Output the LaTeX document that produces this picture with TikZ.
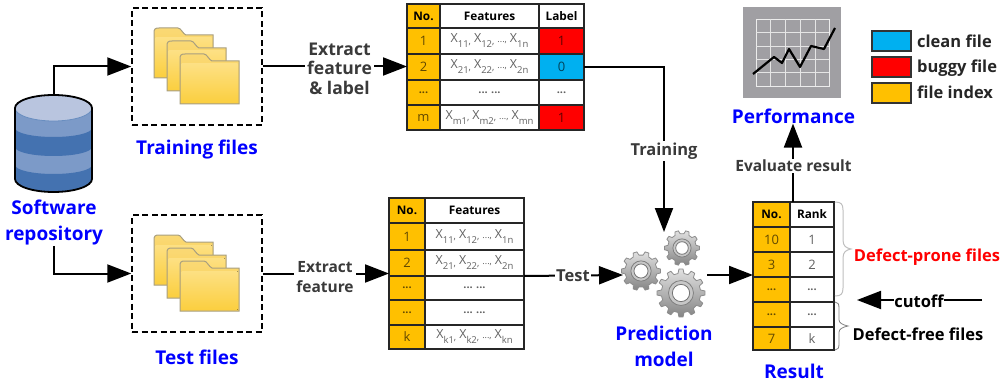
\documentclass[tikz,border=0pt]{standalone}
\usepackage{fontspec}
\setmainfont{Open Sans}
\usetikzlibrary{arrows.meta,calc}
\definecolor{idx}{HTML}{FFC000}
\definecolor{bug}{HTML}{FF0000}
\definecolor{cln}{HTML}{00B0F0}
\definecolor{dbl}{HTML}{7C9AC8}
\definecolor{dbd}{HTML}{4472B0}
\definecolor{dbt}{HTML}{B9C5DF}
\definecolor{lbl}{HTML}{3A3A3A}
\definecolor{bluet}{HTML}{0000FF}
\definecolor{fedge}{HTML}{A89F80}
\definecolor{fbacka}{HTML}{FAD975}
\definecolor{fbackb}{HTML}{F8CC4A}
\definecolor{ffronta}{HTML}{FDE083}
\definecolor{ffrontb}{HTML}{FBCF40}
\definecolor{chartbg}{HTML}{A09FA3}
\tikzset{
  cellbox/.style={draw=black!85,line width=1.4pt,inner sep=0pt,outer sep=0pt,font=\fontsize{13}{13}\selectfont,text=black,text opacity=.62},
  headtext/.style={font=\fontsize{11.8}{12}\selectfont\bfseries,text opacity=1},
  conn/.style={draw=black,line width=2pt},
  arr/.style={conn,-{Triangle[length=24pt,width=18pt]}},
  filebox/.style={draw=black,line width=1.5pt,dash pattern=on 6pt off 3.5pt,inner sep=0pt,minimum width=130pt,minimum height=117pt},
  bluelabel/.style={font=\fontsize{19}{26}\selectfont\bfseries,text=bluet,align=center,inner sep=0pt},
  graylabel/.style={font=\fontsize{15.5}{19.5}\selectfont\bfseries,text=lbl,align=center,inner sep=2pt,fill=white},
  legendbox/.style={draw=black!80,line width=1.4pt,minimum width=39pt,minimum height=20pt,inner sep=0pt},
  legendtext/.style={font=\fontsize{16.5}{16.5}\selectfont\bfseries,text=black!85,anchor=west,inner sep=0pt},
  bracegray/.style={draw=black!25,line width=1pt},
  bracedark/.style={draw=black!50,line width=.8pt}
}
\newcommand\tcell[7]{\node[cellbox,fill=#6,minimum width={#4-#2},minimum height={#5-#3}] (#1) at ({(#2+#4)/2},{(#3+#5)/2}) {#7};}
\newcommand\hcell[7]{\node[cellbox,headtext,fill=#6,minimum width={#4-#2},minimum height={#5-#3}] (#1) at ({(#2+#4)/2},{(#3+#5)/2}) {#7};}
\newcommand\xs[1]{{\fontsize{12.5}{12.5}\selectfont X}\raisebox{-5pt}{\fontsize{9.5}{9.5}\selectfont #1}}
\newcommand\xrow[3]{\xs{#1\raisebox{3.5pt}{,}}\kern3pt\xs{#2\raisebox{3.5pt}{,}}\kern3pt{\fontsize{9}{9}\selectfont ...,}\kern3pt\xs{#3}}
\newcommand\dotsrow{{\fontsize{11}{11}\selectfont\bfseries ...}}
\newcommand\folderone[2]{%
  \draw[draw=fedge,line width=1pt,top color=fbacka,bottom color=fbackb]
    (#1,#2+50) -- (#1,#2+5) .. controls (#1,#2+1) and (#1+1,#2) .. (#1+5,#2) -- (#1+24,#2)
    .. controls (#1+27,#2) and (#1+29,#2+6) .. (#1+32,#2+7) -- (#1+59,#2+7) -- (#1+59,#2+50) -- cycle;
  \fill[top color=ffronta,bottom color=ffrontb]
    (#1+1.5,#2+10) rectangle (#1+57.5,#2+48.5);}
\newcommand\gearshape[4]{% cx cy R teeth
  \path[draw=black!45,line width=.8pt,top color=black!12,bottom color=black!48]
    ({#1+#3*cos(0)},{#2+#3*sin(0)})
    \foreach \k in {1,...,#4}{
      -- ({#1+#3*cos((\k-1)*360/#4+0.16*360/#4)},{#2+#3*sin((\k-1)*360/#4+0.16*360/#4)})
      -- ({#1+.82*#3*cos((\k-1)*360/#4+0.3*360/#4)},{#2+.82*#3*sin((\k-1)*360/#4+0.3*360/#4)})
      -- ({#1+.82*#3*cos((\k-1)*360/#4+0.7*360/#4)},{#2+.82*#3*sin((\k-1)*360/#4+0.7*360/#4)})
      -- ({#1+#3*cos((\k-1)*360/#4+0.84*360/#4)},{#2+#3*sin((\k-1)*360/#4+0.84*360/#4)})
      -- ({#1+#3*cos(\k*360/#4)},{#2+#3*sin(\k*360/#4)})
    } -- cycle;
  \draw[black!50,line width=.8pt,fill=black!22] (#1,#2) circle ({.52*#3});
  \draw[black!55,line width=.8pt,fill=white] (#1,#2) circle ({.36*#3});}
\begin{document}
\begin{tikzpicture}[x=1pt,y=-1pt]
\useasboundingbox (0,0) rectangle (1007,385);
% database
\fill[dbl] (15,107) -- (15,179) arc[start angle=180,end angle=360,x radius=38.5,y radius=-13] -- (92,107) -- cycle;
\fill[dbd] (15,128) arc[start angle=180,end angle=360,x radius=38.5,y radius=-9] -- (92,147)
  arc[start angle=0,end angle=-180,x radius=38.5,y radius=-9] -- cycle;
\fill[dbd] (15,165) arc[start angle=180,end angle=360,x radius=38.5,y radius=-9] -- (92,179)
  arc[start angle=0,end angle=-180,x radius=38.5,y radius=-13] -- cycle;
\draw[dbd!80,line width=.8pt,fill=dbt] (53.5,108) ellipse[x radius=38.5,y radius=13];
\draw[black,line width=1.8pt] (15,179) -- (15,108) arc[start angle=180,end angle=360,x radius=38.5,y radius=13] -- (92,179)
  arc[start angle=0,end angle=-180,x radius=38.5,y radius=-13];
\node[minimum width=77pt,minimum height=97pt,inner sep=0pt] (db) at (53.5,143.5) {};
\node[bluelabel] (dblabel) at (54,223) {Software\\repository};
% file boxes
\node[filebox] (trainbox) at (197,66.5) {};
\node[filebox] (testbox) at (197,273.5) {};
\folderone{154}{28}\folderone{167}{41}\folderone{180}{54}
\folderone{154}{235}\folderone{167}{248}\folderone{180}{261}
\node[bluelabel] (trainlabel) at (197,150) {Training files};
\node[bluelabel] (testlabel) at (197,357) {Test files};
% table A
\hcell{a0n}{407}{4}{440}{28}{idx}{No.}\hcell{a0f}{440}{4}{539}{28}{white}{Features}\hcell{a0l}{539}{4}{584}{28}{white}{Label}
\tcell{a1n}{407}{28}{440}{54}{idx}{1}\tcell{a1f}{440}{28}{539}{54}{white}{\xrow{11}{12}{1n}}\tcell{a1l}{539}{28}{584}{54}{bug}{1}
\tcell{a2n}{407}{54}{440}{80}{idx}{2}\tcell{a2f}{440}{54}{539}{80}{white}{\xrow{21}{22}{2n}}\tcell{a2l}{539}{54}{584}{80}{cln}{0}
\tcell{a3n}{407}{80}{440}{105}{idx}{\dotsrow}\tcell{a3f}{440}{80}{539}{105}{white}{\dotsrow\ \dotsrow}\tcell{a3l}{539}{80}{584}{105}{white}{\dotsrow}
\tcell{a4n}{407}{105}{440}{130}{idx}{m}\tcell{a4f}{440}{105}{539}{130}{white}{\xrow{m1}{m2}{mn}}\tcell{a4l}{539}{105}{584}{130}{bug}{1}
% table B
\hcell{b0n}{389}{198}{425}{223}{idx}{No.}\hcell{b0f}{425}{198}{524}{223}{white}{Features}
\tcell{b1n}{389}{223}{425}{250}{idx}{1}\tcell{b1f}{425}{223}{524}{250}{white}{\xrow{11}{12}{1n}}
\tcell{b2n}{389}{250}{425}{276}{idx}{2}\tcell{b2f}{425}{250}{524}{276}{white}{\xrow{21}{22}{2n}}
\tcell{b3n}{389}{276}{425}{300}{idx}{\dotsrow}\tcell{b3f}{425}{276}{524}{300}{white}{\dotsrow\ \dotsrow}
\tcell{b4n}{389}{300}{425}{325}{idx}{\dotsrow}\tcell{b4f}{425}{300}{524}{325}{white}{\dotsrow\ \dotsrow}
\tcell{b5n}{389}{325}{425}{349}{idx}{k}\tcell{b5f}{425}{325}{524}{349}{white}{\xrow{k1}{k2}{kn}}
% table C
\hcell{c0n}{753}{202}{790}{227}{idx}{No.}\hcell{c0r}{790}{202}{834}{227}{white}{Rank}
\tcell{c1n}{753}{227}{790}{252}{idx}{10}\tcell{c1r}{790}{227}{834}{252}{white}{1}
\tcell{c2n}{753}{252}{790}{277}{idx}{3}\tcell{c2r}{790}{252}{834}{277}{white}{2}
\tcell{c3n}{753}{277}{790}{302}{idx}{\dotsrow}\tcell{c3r}{790}{277}{834}{302}{white}{\dotsrow}
\tcell{c4n}{753}{302}{790}{327}{idx}{\dotsrow}\tcell{c4r}{790}{302}{834}{327}{white}{\dotsrow}
\tcell{c5n}{753}{327}{790}{350}{idx}{7}\tcell{c5r}{790}{327}{834}{350}{white}{k}
\node[bluelabel] (resultlabel) at (794,371) {Result};
% gears
\gearshape{682}{248}{17.5}{10}
\gearshape{641}{271}{19.5}{10}
\gearshape{681}{293}{24}{12}
\coordinate (gearin) at (623,275);
\coordinate (gearout) at (707,275);
\coordinate (geartop) at (664,232);
\node[bluelabel] (predlabel) at (664,346) {Prediction\\model};
% chart
\node[fill=chartbg,minimum width=98pt,minimum height=91pt,inner sep=0pt] (chart) at (792,52.5) {};
\draw[white!85!gray,line width=.8pt] (756,19) rectangle (829,86);
\foreach \gy in {32,46,59,72}{\draw[white!80!gray,line width=.8pt] (756,\gy) -- (829,\gy);}
\foreach \gx in {770,785,800,815}{\draw[white!80!gray,line width=.8pt] (\gx,19) -- (\gx,86);}
\draw[black,line width=2.2pt,line join=round] (753,74) -- (774,57) -- (782,63) -- (789,49) -- (800,67) -- (811,46) -- (824,49) -- (835,28);
\node[bluelabel] (perflabel) at (793.5,116) {Performance};
% legend
\node[legendbox,fill=cln] (lg1) at (891.5,41) {};
\node[legendbox,fill=bug] (lg2) at (891.5,67) {};
\node[legendbox,fill=idx] (lg3) at (891.5,93) {};
\node[legendtext] (lt1) at (917,41) {clean file};
\node[legendtext] (lt2) at (917,68.5) {buggy file};
\node[legendtext] (lt3) at (917,92.5) {file index};
% connectors
\draw[arr] (db.north) |- (trainbox.west);
\draw[arr] (dblabel.south) |- (testbox.west);
\draw[arr] (trainbox.east) -- (trainbox.east -| a2n.west);
\node[graylabel,font=\fontsize{17.5}{19.5}\selectfont\bfseries] (extract1) at (339.5,68.5) {Extract\\feature\\\& label};
\draw[arr] (testbox.east) -- (testbox.east -| b3n.west);
\node[graylabel] (extract2) at (325,277) {Extract\\feature};
\draw[arr] (a2l.east) -| (geartop);
\node[graylabel,font=\fontsize{16.5}{19.5}\selectfont\bfseries] (training) at (664,151) {Training};
\draw[arr] (b2f.south east) -- (gearin);
\node[graylabel,font=\fontsize{16.5}{17}\selectfont\bfseries,inner sep=1pt] (testtxt) at (573,276) {Test};
\draw[arr] (gearout) -- (gearout -| c3n.west);
\draw[arr] (c0n.north east) ++(3,0) coordinate (cup) -- (cup |- perflabel.south);
\node[graylabel,inner sep=1pt] (evaltxt) at (793.5,166) {Evaluate result};
% braces
\draw[bracegray] (835,202) .. controls (841,202) and (843,204) .. (843,210) -- (843,240) .. controls (843,246) and (846,248) .. (851,249)
  .. controls (846,250) and (843,252) .. (843,258) -- (843,288) .. controls (843,294) and (841,296) .. (835,296);
\draw[bracedark] (835,302) .. controls (838,302) and (839,304) .. (839,308) -- (839,320) .. controls (839,323) and (843,325) .. (848,326)
  .. controls (843,327) and (839,329) .. (839,332) -- (839,344) .. controls (839,348) and (838,350) .. (835,350);
\node[font=\fontsize{16.5}{16.5}\selectfont\bfseries,text=red,inner sep=0pt] (prone) at (927,257) {Defect-prone files};
\node[font=\fontsize{16.5}{16.5}\selectfont\bfseries,text=black,inner sep=0pt] (free) at (918,334) {Defect-free files};
\coordinate (cutstart) at (982,300);
\coordinate (cutend) at (857,300);
\draw[arr] (cutstart) -- (cutend);
\node[font=\fontsize{16.5}{17}\selectfont\bfseries,text=black,fill=white,inner sep=0pt] (cut) at (919,301) {cutoff};
\end{tikzpicture}
\end{document}
